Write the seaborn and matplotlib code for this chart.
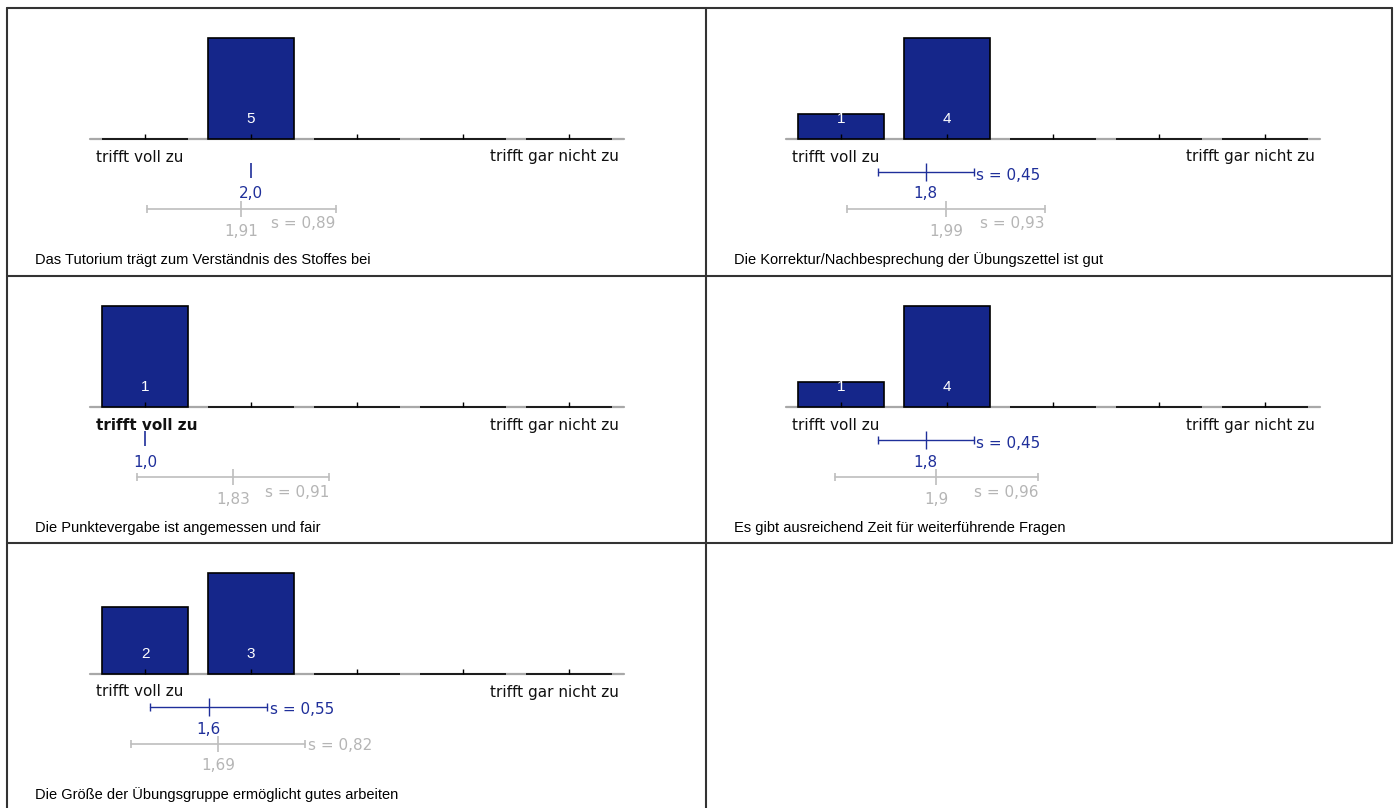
"""
Lehrevaluation: Verteilung der Antworten je Frage (Skala 1-5)
mit Mittelwert/Standardabweichung der Gruppe und Vergleichswert.
"""

import matplotlib
matplotlib.use("Agg")
import matplotlib.pyplot as plt
import seaborn as sns

# Daten
TITEL = [
    "Das Tutorium trägt zum Verständnis des Stoffes bei",
    "Die Korrektur/Nachbesprechung der Übungszettel ist gut",
    "Die Punktevergabe ist angemessen und fair",
    "Es gibt ausreichend Zeit für weiterführende Fragen",
    "Die Größe der Übungsgruppe ermöglicht gutes arbeiten",
]
STUFEN = ["1", "2", "3", "4", "5"]
ANZAHL = [
    [0, 5, 0, 0, 0],
    [1, 4, 0, 0, 0],
    [1, 0, 0, 0, 0],
    [1, 4, 0, 0, 0],
    [2, 3, 0, 0, 0],
]
MITTEL = [2.0, 1.8, 1.0, 1.8, 1.6]
STDABW = [0.0, 0.45, 0.0, 0.45, 0.55]
VGL_MITTEL = [1.91, 1.99, 1.83, 1.9, 1.69]
VGL_STDABW = [0.89, 0.93, 0.91, 0.96, 0.82]
LINKS_FETT = [False, False, True, False, False]
VGL_S_INLINE = [False, False, False, False, True]
LABEL_LINKS = "trifft voll zu"
LABEL_RECHTS = "trifft gar nicht zu"

# Layout (Pixel)
W, H = 1394, 808
SPALTEN = [(7, 699, 138), (706, 686, 135)]  # links, breite, offset kategorie 1
ZEILEN = [(8, 268), (276, 267), (543, 265)]  # oben, hoehe
PX_EINHEIT = 106.0
BASIS = 131
BALKEN_PX = 101

BALKEN = "#15268A"
BLAU = "#1F2F9A"
GRAU_LINIE = "#BEBEBE"
GRAU_TEXT = "#B5B5B5"
SCHRIFT = 11

sns.set_style("white")
plt.rcParams["font.family"] = ["DejaVu Sans"]


def fmt(v, stellen=None):
    s = f"{v:.{stellen}f}" if stellen is not None else f"{v:g}"
    return s.replace(".", ",")


def zeichne_feld(fig, i, links, breite, off, oben, hoehe):
    ax = fig.add_axes([links / W, 1 - (oben + hoehe) / H, breite / W, hoehe / H])
    px = 1 / PX_EINHEIT

    anzahl = ANZAHL[i]
    hoehen = [a / max(anzahl) * BALKEN_PX for a in anzahl]

    # Grundlinie
    ax.plot([-0.52, 4.52], [0, 0], color="#A8A8A8", lw=1.6, zorder=0)
    sns.barplot(x=STUFEN, y=hoehen, order=STUFEN, ax=ax, color=BALKEN,
                saturation=1, width=0.81, edgecolor="black", linewidth=1.2,
                zorder=2)
    ax.set_xlim(-off / PX_EINHEIT, (breite - off) / PX_EINHEIT)
    ax.set_ylim(-(hoehe - BASIS), BASIS)
    ax.set_axis_off()
    ax.vlines(range(5), 0, 5, color="black", lw=1.0, zorder=3)

    for k, a in enumerate(anzahl):
        if a > 0:
            ax.text(k, 20, str(a), color="white", ha="center", va="center",
                    fontsize=11, family="Liberation Sans", zorder=4)

    ax.text(-0.46, -18, LABEL_LINKS, ha="left", va="center", fontsize=SCHRIFT,
            fontweight="bold" if LINKS_FETT[i] else "normal", color="#111111")
    ax.text(4.47, -18, LABEL_RECHTS, ha="right", va="center", fontsize=SCHRIFT,
            color="#111111")

    # Mittelwert der Gruppe
    m = MITTEL[i] - 1
    s = STDABW[i]
    if s > 0:
        ax.plot([m - s, m + s], [-33, -33], color=BLAU, lw=1.0)
        ax.vlines([m - s, m + s], -37, -29, color=BLAU, lw=1.0)
        ax.vlines([m], -42, -24, color=BLAU, lw=1.0)
        ax.text(m + s + 3 * px, -36, f"s = {fmt(s, 2)}", color=BLAU,
                ha="left", va="center", fontsize=SCHRIFT)
    else:
        ax.vlines([m], -39, -24, color=BLAU, lw=1.2)
    ax.text(m, -55, fmt(MITTEL[i], 1), color=BLAU, ha="center", va="center",
            fontsize=SCHRIFT)

    # Vergleichswert
    vm = VGL_MITTEL[i] - 1
    vs = VGL_STDABW[i]
    ax.plot([vm - vs, vm + vs], [-70, -70], color=GRAU_LINIE, lw=1.2)
    ax.vlines([vm - vs, vm + vs], -74, -66, color=GRAU_LINIE, lw=1.2)
    ax.vlines([vm], -78, -62, color=GRAU_LINIE, lw=1.2)
    ax.text(vm, -92, fmt(VGL_MITTEL[i]), color=GRAU_TEXT, ha="center",
            va="center", fontsize=SCHRIFT)
    if VGL_S_INLINE[i]:
        ax.text(vm + vs + 3 * px, -71, f"s = {fmt(vs, 2)}", color=GRAU_TEXT,
                ha="left", va="center", fontsize=SCHRIFT)
    else:
        ax.text(vm + vs, -85, f"s = {fmt(vs, 2)}", color=GRAU_TEXT,
                ha="right", va="center", fontsize=SCHRIFT)

    ax.text(-(off - 28) / PX_EINHEIT, -121, TITEL[i], ha="left", va="center",
            fontsize=10.5, family="Liberation Sans", color="black")


def main():
    fig = plt.figure(figsize=(W / 100, H / 100), dpi=100)

    # Rahmen
    bg = fig.add_axes([0, 0, 1, 1])
    bg.set_xlim(0, W)
    bg.set_ylim(H, 0)
    bg.set_axis_off()
    rahmen = dict(color="#333333", lw=1.5)
    for y in (8, 276, 543):
        bg.plot([7, 1392], [y, y], **rahmen)
    bg.plot([7, 7], [8, H], **rahmen)
    bg.plot([706, 706], [8, H], **rahmen)
    bg.plot([1392, 1392], [8, 543], **rahmen)

    for i in range(len(TITEL)):
        zeile, spalte = divmod(i, 2)
        links, breite, off = SPALTEN[spalte]
        oben, hoehe = ZEILEN[zeile]
        zeichne_feld(fig, i, links, breite, off, oben, hoehe)

    fig.savefig("out.png", dpi=100)
    plt.close(fig)


if __name__ == "__main__":
    main()
